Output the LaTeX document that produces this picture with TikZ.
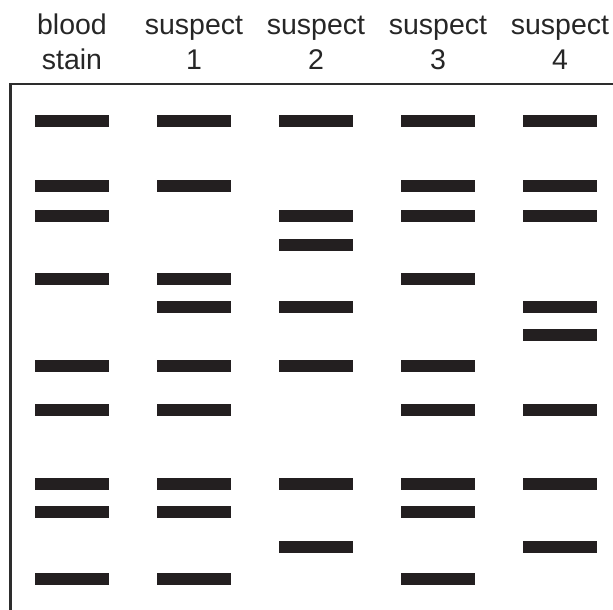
\documentclass[tikz,border=0pt]{standalone}
\usepackage{fontspec}
\setmainfont{Liberation Sans}
\definecolor{bandcol}{RGB}{35,31,32}
\definecolor{framecol}{RGB}{45,45,45}
\begin{document}
\begin{tikzpicture}[x=1pt,y=-1pt,
  band/.style={fill=bandcol,draw=none,rectangle,inner sep=0pt,minimum width=74pt,minimum height=12pt},
  lbl/.style={anchor=base,inner sep=0pt,font=\fontsize{28.5}{34}\selectfont,text=black!85}]
\useasboundingbox (0,0) rectangle (613,610);
% frame
\coordinate (fb) at (10.3,610);
\coordinate (fc) at (10.3,84);
\coordinate (fr) at (613,84);
\draw[framecol,line width=2.6pt] (fb) -- (fc) -- (fr);
% labels
\node[lbl] (t1a) at (72,34.3) {blood};
\node[lbl] (t1b) at (72,70) {stain};
\foreach \i/\x in {1/194,2/316,3/438,4/560}{
  \node[lbl] (s\i a) at (\x,34.3) {suspect};
  \node[lbl] (s\i b) at (\x,70) {\i};
}
% lane 0: blood stain
\foreach \y [count=\k] in {120.8,185.8,215.8,279.2,365.8,409.8,483.8,511.8,578.8}
  \node[band] (b0-\k) at (72,\y) {};
% lane 1: suspect 1
\foreach \y [count=\k] in {120.8,185.8,279.2,306.8,365.8,409.8,483.8,511.8,578.8}
  \node[band] (b1-\k) at (194,\y) {};
% lane 2: suspect 2
\foreach \y [count=\k] in {120.8,215.8,244.8,306.8,365.8,483.8,546.8}
  \node[band] (b2-\k) at (316,\y) {};
% lane 3: suspect 3
\foreach \y [count=\k] in {120.8,185.8,215.8,279.2,365.8,409.8,483.8,511.8,578.8}
  \node[band] (b3-\k) at (438,\y) {};
% lane 4: suspect 4
\foreach \y [count=\k] in {120.8,185.8,215.8,306.8,334.8,409.8,483.8,546.8}
  \node[band] (b4-\k) at (560,\y) {};
\end{tikzpicture}
\end{document}
